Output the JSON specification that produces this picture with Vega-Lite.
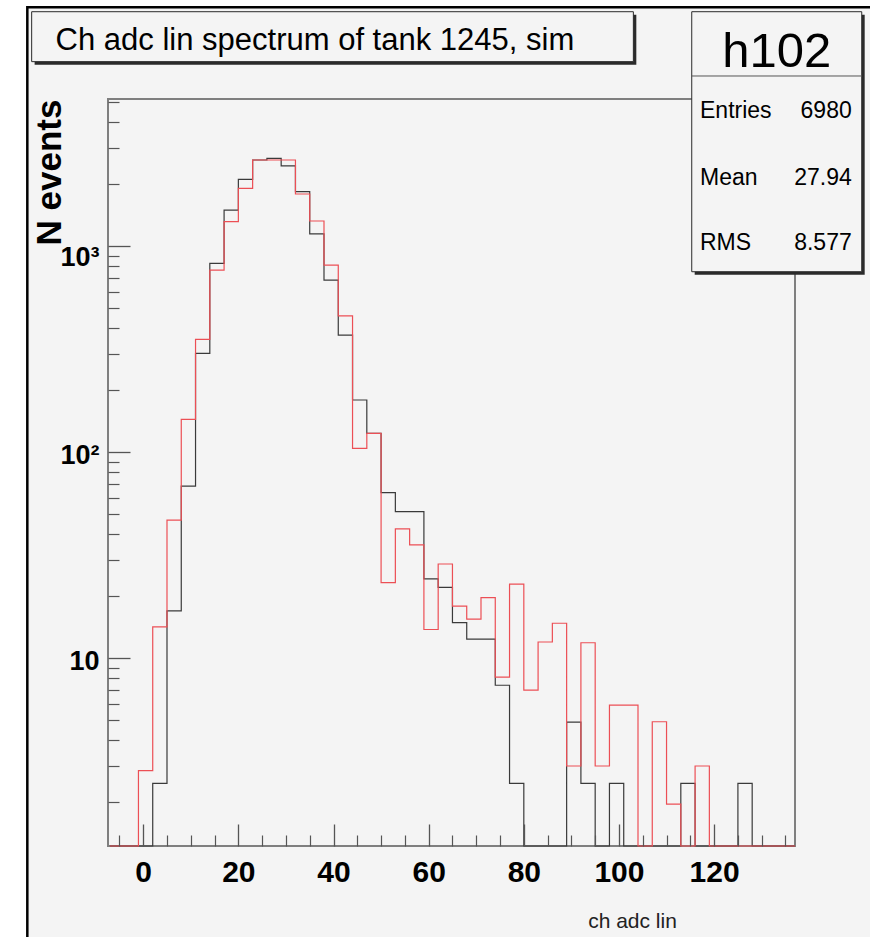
{
  "$schema": "https://vega.github.io/schema/vega-lite/v6.json",
  "width": 687,
  "height": 747,
  "autosize": {"type": "none"},
  "padding": {"left": 108, "top": 99, "right": 75, "bottom": 91},
  "background": "white",
  "config": {"view": {"stroke": null}, "font": "Liberation Sans"},
  "datasets": {
    "black": [
      {"x": -7, "n": 0}, {"x": -4, "n": 0}, {"x": -1, "n": 0}, {"x": 2, "n": 2.47},
      {"x": 5, "n": 17.0}, {"x": 8, "n": 68.6}, {"x": 11, "n": 302}, {"x": 14, "n": 827},
      {"x": 17, "n": 1500}, {"x": 20, "n": 2114}, {"x": 23, "n": 2624}, {"x": 26, "n": 2673},
      {"x": 29, "n": 2455}, {"x": 32, "n": 1841}, {"x": 35, "n": 1148}, {"x": 38, "n": 686},
      {"x": 41, "n": 371}, {"x": 44, "n": 179.5}, {"x": 47, "n": 123.6}, {"x": 50, "n": 63.7},
      {"x": 53, "n": 51.5}, {"x": 56, "n": 51.5}, {"x": 59, "n": 24.3}, {"x": 62, "n": 22.1},
      {"x": 65, "n": 14.9}, {"x": 68, "n": 12.4}, {"x": 71, "n": 12.4}, {"x": 74, "n": 7.4},
      {"x": 77, "n": 2.47}, {"x": 80, "n": 0}, {"x": 83, "n": 0}, {"x": 86, "n": 0},
      {"x": 89, "n": 4.9}, {"x": 92, "n": 2.47}, {"x": 95, "n": 0}, {"x": 98, "n": 2.47},
      {"x": 101, "n": 0}, {"x": 104, "n": 0}, {"x": 107, "n": 0}, {"x": 110, "n": 0},
      {"x": 113, "n": 2.47}, {"x": 116, "n": 0}, {"x": 119, "n": 0}, {"x": 122, "n": 0},
      {"x": 125, "n": 2.47}, {"x": 128, "n": 0}, {"x": 131, "n": 0}, {"x": 134, "n": 0},
      {"x": 137, "n": 0}
    ],
    "red": [
      {"x": -7, "n": 0}, {"x": -4, "n": 0}, {"x": -1, "n": 2.85}, {"x": 2, "n": 14.2},
      {"x": 5, "n": 46.9}, {"x": 8, "n": 144.6}, {"x": 11, "n": 353.7}, {"x": 14, "n": 767},
      {"x": 17, "n": 1317}, {"x": 20, "n": 1912}, {"x": 23, "n": 2624}, {"x": 26, "n": 2624},
      {"x": 29, "n": 2624}, {"x": 32, "n": 1795}, {"x": 35, "n": 1327}, {"x": 38, "n": 811},
      {"x": 41, "n": 460}, {"x": 44, "n": 104.4}, {"x": 47, "n": 123.6}, {"x": 50, "n": 23.3},
      {"x": 53, "n": 42.5}, {"x": 56, "n": 35.5}, {"x": 59, "n": 13.8}, {"x": 62, "n": 28.7},
      {"x": 65, "n": 17.9}, {"x": 68, "n": 15.5}, {"x": 71, "n": 19.7}, {"x": 74, "n": 8.1},
      {"x": 77, "n": 22.9}, {"x": 80, "n": 7.0}, {"x": 83, "n": 12.0}, {"x": 86, "n": 14.8},
      {"x": 89, "n": 3.0}, {"x": 92, "n": 11.9}, {"x": 95, "n": 3.0}, {"x": 98, "n": 5.93},
      {"x": 101, "n": 5.93}, {"x": 104, "n": 0}, {"x": 107, "n": 4.92}, {"x": 110, "n": 1.96},
      {"x": 113, "n": 0}, {"x": 116, "n": 3.0}, {"x": 119, "n": 0}, {"x": 122, "n": 0},
      {"x": 125, "n": 0}, {"x": 128, "n": 0}, {"x": 131, "n": 0}, {"x": 134, "n": 0},
      {"x": 137, "n": 0}
    ]
  },
  "layer": [
    {
      "data": {"values": [{}]},
      "mark": {"type": "rect", "fill": "#f4f4f4", "stroke": "#000000", "strokeWidth": 2.5},
      "encoding": {
        "x": {"datum": 0.0314, "type": "quantitative", "scale": {"domain": [0, 1], "range": [-108, 762], "nice": false, "zero": false}, "axis": null},
        "x2": {"datum": 1.01},
        "y": {"datum": 0.9922, "type": "quantitative", "scale": {"domain": [0, 1], "range": [838, -99], "nice": false, "zero": false}, "axis": null},
        "y2": {"datum": -0.02}
      }
    },
    {
      "layer": [
        {
          "data": {"values": [{}]},
          "mark": {"type": "rect", "filled": false, "stroke": "#7f7f7f", "strokeWidth": 2},
          "encoding": {
            "x": {"datum": -7.4, "type": "quantitative", "scale": {"domain": [-7.4, 137], "nice": false, "zero": false}, "axis": null},
            "x2": {"datum": 137},
            "y": {"datum": 1.227, "type": "quantitative", "scale": {"type": "log", "domain": [1.227, 5190], "nice": false, "clamp": true}, "axis": null},
            "y2": {"datum": 5190}
          }
        },
        {
          "data": {"name": "black"},
          "mark": {"type": "line", "interpolate": "step-after", "stroke": "#3a3a3a", "strokeWidth": 1.2},
          "encoding": {
            "x": {
              "field": "x", "type": "quantitative",
              "scale": {"domain": [-7.4, 137], "nice": false, "zero": false},
              "axis": {
                "orient": "bottom", "zindex": 1, "values": [0, 20, 40, 60, 80, 100, 120],
                "domain": false, "grid": false, "tickSize": -22, "tickColor": "#555555", "tickWidth": 1.3,
                "labelFont": "Liberation Sans", "labelFontWeight": "bold", "labelFontSize": 30, "labelColor": "#000000",
                "labelPadding": 33, "labelFlush": false, "labelOverlap": false,
                "title": "ch adc lin", "titleFont": "Liberation Sans", "titleFontSize": 21, "titleFontWeight": "normal",
                "titleColor": "#222222", "titleX": 524, "titleY": 81, "titleAlign": "center", "titleBaseline": "alphabetic"
              }
            },
            "y": {
              "field": "n", "type": "quantitative",
              "scale": {"type": "log", "domain": [1.227, 5190], "nice": false, "clamp": true},
              "axis": {
                "orient": "left", "zindex": 1, "values": [10, 100, 1000],
                "domain": false, "grid": false, "tickSize": -22, "tickColor": "#555555", "tickWidth": 1.3,
                "labelExpr": "datum.value == 10 ? '10' : datum.value == 100 ? '10²' : '10³'",
                "labelFont": "Liberation Sans", "labelFontWeight": "bold", "labelFontSize": 27, "labelColor": "#000000",
                "labelPadding": 31, "labelFlush": false, "labelOverlap": false, "labelBaseline": "middle",
                "labelOffset": {"condition": {"test": "datum.value == 1000", "value": 11}, "value": 3},
                "title": "N events", "titleFont": "Liberation Sans", "titleFontSize": 35, "titleFontWeight": "bold",
                "titleColor": "#000000", "titleAngle": -90, "titleAlign": "right", "titleBaseline": "alphabetic",
                "titleX": -48, "titleY": 0
              }
            }
          }
        },
        {
          "data": {"name": "red"},
          "mark": {"type": "line", "interpolate": "step-after", "stroke": "#ec4f55", "strokeWidth": 1.2},
          "encoding": {
            "x": {
              "field": "x", "type": "quantitative",
              "scale": {"domain": [-7.4, 137], "nice": false, "zero": false},
              "axis": {
                "orient": "bottom", "zindex": 1,
                "values": [-5, 5, 10, 15, 25, 30, 35, 45, 50, 55, 65, 70, 75, 85, 90, 95, 105, 110, 115, 125, 130, 135],
                "domain": false, "grid": false, "labels": false, "title": null,
                "tickSize": -11, "tickColor": "#555555", "tickWidth": 1.2
              }
            },
            "y": {
              "field": "n", "type": "quantitative",
              "scale": {"type": "log", "domain": [1.227, 5190], "nice": false, "clamp": true},
              "axis": {
                "orient": "left", "zindex": 1,
                "values": [2, 3, 4, 5, 6, 7, 8, 9, 20, 30, 40, 50, 60, 70, 80, 90, 200, 300, 400, 500, 600, 700, 800, 900, 2000, 3000, 4000, 5000],
                "domain": false, "grid": false, "labels": false, "title": null,
                "tickSize": -11, "tickColor": "#555555", "tickWidth": 1.2
              }
            }
          }
        }
      ],
      "resolve": {"axis": {"x": "independent", "y": "independent"}}
    },
    {
      "data": {"values": [{}]},
      "layer": [
        {
          "mark": {"type": "rect", "fill": "#2a2a2a"},
          "encoding": {
            "x": {"datum": 0.0398, "type": "quantitative", "scale": {"domain": [0, 1], "range": [-108, 762], "nice": false, "zero": false}, "axis": null},
            "x2": {"datum": 0.7314},
            "y": {"datum": 0.9843, "type": "quantitative", "scale": {"domain": [0, 1], "range": [838, -99], "nice": false, "zero": false}, "axis": null},
            "y2": {"datum": 0.9310}
          }
        },
        {
          "mark": {"type": "rect", "fill": "#f4f4f4", "stroke": "#2a2a2a", "strokeWidth": 1},
          "encoding": {
            "x": {"datum": 0.0364, "type": "quantitative"},
            "x2": {"datum": 0.7280},
            "y": {"datum": 0.9875, "type": "quantitative"},
            "y2": {"datum": 0.9342}
          }
        },
        {
          "mark": {"type": "text", "text": "Ch adc lin spectrum of tank 1245, sim", "font": "Liberation Sans", "fontSize": 31, "align": "left", "baseline": "alphabetic", "color": "#000000"},
          "encoding": {
            "x": {"datum": 0.0639, "type": "quantitative"},
            "y": {"datum": 0.9466, "type": "quantitative"}
          }
        },
        {
          "mark": {"type": "rect", "fill": "#2a2a2a"},
          "encoding": {
            "x": {"datum": 0.7985, "type": "quantitative"},
            "x2": {"datum": 0.9939},
            "y": {"datum": 0.9843, "type": "quantitative"},
            "y2": {"datum": 0.7068}
          }
        },
        {
          "mark": {"type": "rect", "fill": "#f4f4f4", "stroke": "#2a2a2a", "strokeWidth": 1},
          "encoding": {
            "x": {"datum": 0.7951, "type": "quantitative"},
            "x2": {"datum": 0.9905},
            "y": {"datum": 0.9875, "type": "quantitative"},
            "y2": {"datum": 0.7100}
          }
        },
        {
          "mark": {"type": "rule", "stroke": "#555555", "strokeWidth": 1},
          "encoding": {
            "x": {"datum": 0.7951, "type": "quantitative"},
            "x2": {"datum": 0.9905},
            "y": {"datum": 0.9189, "type": "quantitative"}
          }
        },
        {
          "mark": {"type": "text", "text": "h102", "font": "Liberation Sans", "fontSize": 49, "align": "center", "baseline": "alphabetic", "color": "#000000"},
          "encoding": {
            "x": {"datum": 0.8928, "type": "quantitative"},
            "y": {"datum": 0.9288, "type": "quantitative"}
          }
        },
        {
          "mark": {"type": "text", "text": "Entries", "font": "Liberation Sans", "fontSize": 23, "align": "left", "baseline": "alphabetic", "color": "#000000"},
          "encoding": {"x": {"datum": 0.8046, "type": "quantitative"}, "y": {"datum": 0.8737, "type": "quantitative"}}
        },
        {
          "mark": {"type": "text", "text": "6980", "font": "Liberation Sans", "fontSize": 23, "align": "right", "baseline": "alphabetic", "color": "#000000"},
          "encoding": {"x": {"datum": 0.9790, "type": "quantitative"}, "y": {"datum": 0.8737, "type": "quantitative"}}
        },
        {
          "mark": {"type": "text", "text": "Mean", "font": "Liberation Sans", "fontSize": 23, "align": "left", "baseline": "alphabetic", "color": "#000000"},
          "encoding": {"x": {"datum": 0.8046, "type": "quantitative"}, "y": {"datum": 0.8026, "type": "quantitative"}}
        },
        {
          "mark": {"type": "text", "text": "27.94", "font": "Liberation Sans", "fontSize": 23, "align": "right", "baseline": "alphabetic", "color": "#000000"},
          "encoding": {"x": {"datum": 0.9790, "type": "quantitative"}, "y": {"datum": 0.8026, "type": "quantitative"}}
        },
        {
          "mark": {"type": "text", "text": "RMS", "font": "Liberation Sans", "fontSize": 23, "align": "left", "baseline": "alphabetic", "color": "#000000"},
          "encoding": {"x": {"datum": 0.8046, "type": "quantitative"}, "y": {"datum": 0.7332, "type": "quantitative"}}
        },
        {
          "mark": {"type": "text", "text": "8.577", "font": "Liberation Sans", "fontSize": 23, "align": "right", "baseline": "alphabetic", "color": "#000000"},
          "encoding": {"x": {"datum": 0.9790, "type": "quantitative"}, "y": {"datum": 0.7332, "type": "quantitative"}}
        }
      ]
    }
  ],
  "resolve": {"scale": {"x": "independent", "y": "independent"}}
}
